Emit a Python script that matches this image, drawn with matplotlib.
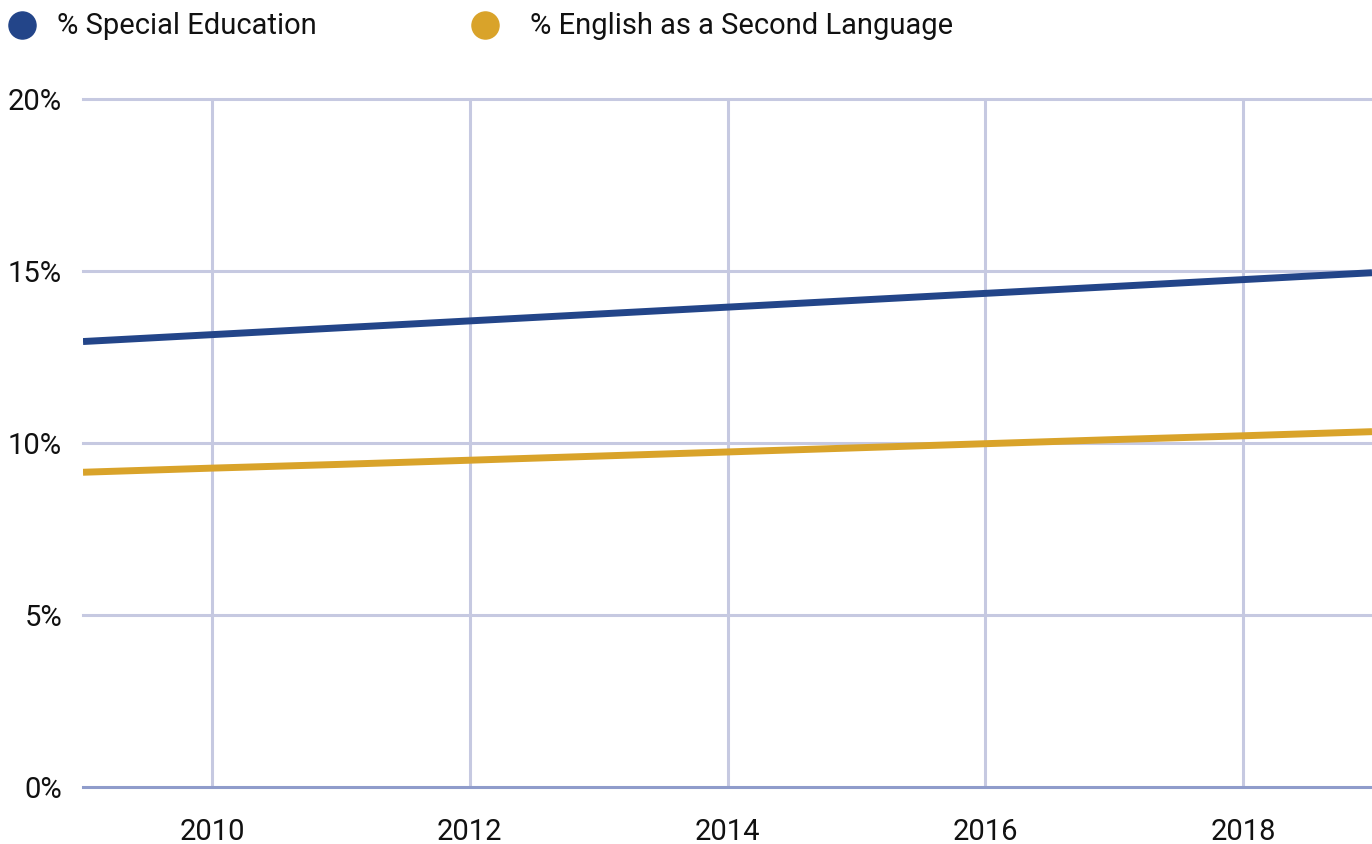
import matplotlib.pyplot as plt
from matplotlib.lines import Line2D
from matplotlib.ticker import FuncFormatter

years = [2009, 2010, 2011, 2012, 2013, 2014, 2015, 2016, 2017, 2018, 2019]
special_ed = [12.95, 13.15, 13.35, 13.55, 13.75, 13.95, 14.15, 14.35, 14.55, 14.75, 14.95]
esl = [9.15, 9.27, 9.38, 9.50, 9.62, 9.74, 9.86, 9.98, 10.10, 10.21, 10.33]
labels = ["% Special Education", "% English as a Second Language"]
colors = ["#234589", "#d9a32a"]

plt.rcParams["font.family"] = ["Roboto", "DejaVu Sans"]

fig = plt.figure(figsize=(13.72, 8.44), dpi=100)
ax = fig.add_axes([0.0605, 0.0675, 0.9395, 0.8152])

grid_c = "#c6c9e1"
for y in [5, 10, 15, 20]:
    ax.axhline(y, color=grid_c, lw=2.2, zorder=1, clip_on=False)
for x in [2010, 2012, 2014, 2016, 2018]:
    ax.axvline(x, color=grid_c, lw=2.2, zorder=1)
ax.axhline(0, color="#8f9ccb", lw=2.2, zorder=1, clip_on=False)

ax.plot(years, special_ed, color=colors[0], lw=5, solid_capstyle="butt", zorder=3)
ax.plot(years, esl, color=colors[1], lw=5, solid_capstyle="butt", zorder=3)

ax.set_xlim(2009, 2019)
ax.set_ylim(0, 20)
ax.set_xticks([2010, 2012, 2014, 2016, 2018])
ax.set_yticks([0, 5, 10, 15, 20])
ax.yaxis.set_major_formatter(FuncFormatter(lambda v, _: f"{v:.0f}%"))
ax.tick_params(axis="both", length=0, labelsize=21, colors="#111111")
ax.tick_params(axis="y", pad=15)
ax.tick_params(axis="x", pad=22)
for s in ax.spines.values():
    s.set_visible(False)

# legend row along the top
legend_items = [(22, 57), (485, 530)]
W, H = 1372, 844
for (mx, tx), lab, c in zip(legend_items, labels, colors):
    fig.add_artist(Line2D([mx / W], [1 - 25 / H], marker="o", markersize=19.5,
                          color=c, transform=fig.transFigure))
    fig.text(tx / W, 1 - 26 / H, lab, fontsize=21, va="center", ha="left",
             color="#111111")

fig.savefig("out.png", dpi=100)
